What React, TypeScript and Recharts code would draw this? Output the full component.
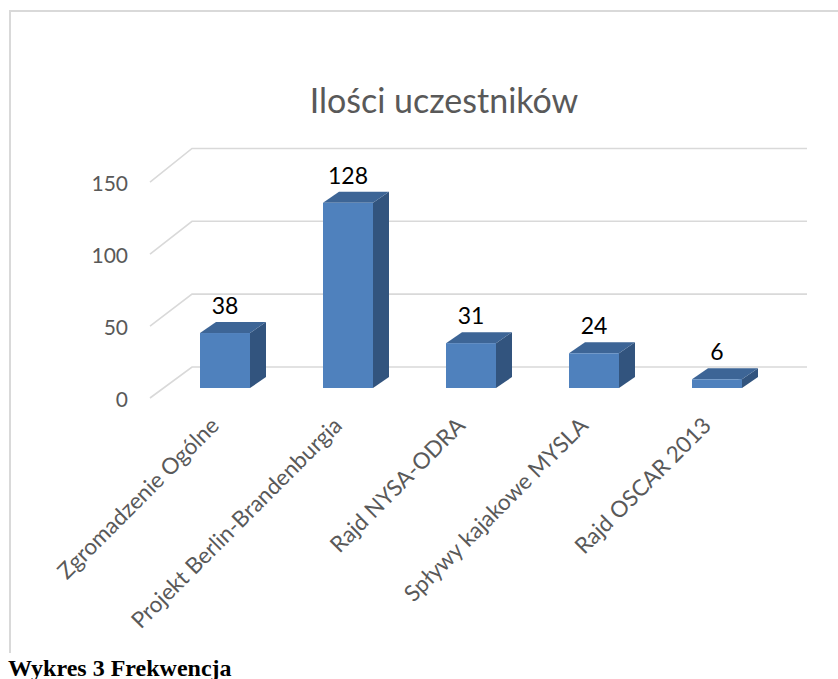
import React from 'react';
import { BarChart, Bar, XAxis, YAxis, CartesianGrid, LabelList } from 'recharts';

const categories = [
  'Zgromadzenie Ogólne',
  'Projekt Berlin-Brandenburgia',
  'Rajd NYSA-ODRA',
  'Spływy kajakowe MYSLA',
  'Rajd OSCAR 2013',
];
const participants = [38, 128, 31, 24, 6];
const yTicks = [0, 50, 100, 150];
const chartTitle = 'Ilości uczestników';
const captionText = 'Wykres 3 Frekwencja';

const data = categories.map((name, i) => ({ name, value: participants[i] }));

const FONT = 'Lato, "Open Sans", "Liberation Sans", sans-serif';
const GRID = '#d9d9d9';
const TEXT_GRAY = '#595959';
const DX = 16;
const DY = 11;

const Bar3D = (props: any) => {
  const { x, y, width, height } = props;
  if (width == null || height == null) return null;
  const front = '#4F81BD';
  const top = '#3D6596';
  const side = '#32547E';
  return (
    <g>
      <path
        d={`M${x},${y + height} L${x + width},${y + height} L${x + width + DX},${y + height - DY} L${x + width + DX},${y - DY} L${x + width},${y} Z`}
        fill={side}
      />
      <path
        d={`M${x},${y} L${x + DX},${y - DY} L${x + width + DX},${y - DY} L${x + width},${y} Z`}
        fill={top}
      />
      <rect x={x} y={y} width={width} height={height} fill={front} />
    </g>
  );
};

const GridLine3D = (props: any) => {
  const { y1 } = props;
  const y = Number(y1);
  const h = 388 - y;
  const yl = y + 10 + h * 0.005;
  const yk = y - 21 - h * 0.007;
  return (
    <path
      key={props.key}
      d={`M150,${yl} L192,${yk} L807,${yk}`}
      fill="none"
      stroke={GRID}
      strokeWidth={1.6}
    />
  );
};

const YTick = (props: any) => {
  const { y, payload } = props;
  const h = 388 - y;
  const yl = y + 10 + h * 0.005;
  return (
    <text
      x={128}
      y={yl}
      textAnchor="end"
      dominantBaseline="central"
      fontFamily={FONT}
      fontSize={21}
      fill={TEXT_GRAY}
    >
      {payload.value}
    </text>
  );
};

const XTick = (props: any) => {
  const { x, payload } = props;
  const ax = x - 4;
  const ay = 427;
  return (
    <text
      x={ax}
      y={ay}
      textAnchor="end"
      fontFamily={FONT}
      fontSize={22.5}
      fill={TEXT_GRAY}
      transform={`rotate(-45 ${ax} ${ay})`}
    >
      {payload.value}
    </text>
  );
};

const ValueLabel = (props: any) => {
  const { x, y, width, value } = props;
  return (
    <text
      x={x + width / 2}
      y={y - 19}
      textAnchor="middle"
      fontFamily={FONT}
      fontSize={23}
      fill="#000000"
    >
      {value}
    </text>
  );
};

export default function App() {
  return (
    <div
      style={{
        position: 'absolute',
        left: 0,
        top: 0,
        width: 838,
        height: 679,
        overflow: 'hidden',
        background: '#ffffff',
      }}
    >
      <div
        style={{
          position: 'absolute',
          left: 9,
          top: 10,
          width: 900,
          height: 643,
          borderTop: `2px solid ${GRID}`,
          borderLeft: `2px solid ${GRID}`,
          boxSizing: 'border-box',
        }}
      />
      <div style={{ position: 'absolute', left: 0, top: 0 }}>
        <BarChart
          width={838}
          height={679}
          data={data}
          margin={{ top: 171, right: 60, bottom: 0, left: 0 }}
          barSize={50}
        >
          <CartesianGrid vertical={false} horizontal={GridLine3D as any} />
          <XAxis
            dataKey="name"
            height={291}
            interval={0}
            axisLine={false}
            tickLine={false}
            tick={XTick}
          />
          <YAxis
            width={163}
            domain={[0, 150]}
            ticks={yTicks}
            axisLine={false}
            tickLine={false}
            tick={YTick}
          />
          <Bar dataKey="value" shape={Bar3D} isAnimationActive={false}>
            <LabelList dataKey="value" content={ValueLabel} />
          </Bar>
        </BarChart>
      </div>
      <svg
        width={838}
        height={679}
        style={{ position: 'absolute', left: 0, top: 0, pointerEvents: 'none' }}
      >
        <text
          x={444}
          y={113}
          textAnchor="middle"
          fontFamily={FONT}
          fontSize={34}
          fill={TEXT_GRAY}
        >
          {chartTitle}
        </text>
        <text
          x={8}
          y={676}
          fontFamily='"Liberation Serif", "Times New Roman", serif'
          fontWeight="bold"
          fontSize={24}
          fill="#000000"
        >
          {captionText}
        </text>
      </svg>
    </div>
  );
}
